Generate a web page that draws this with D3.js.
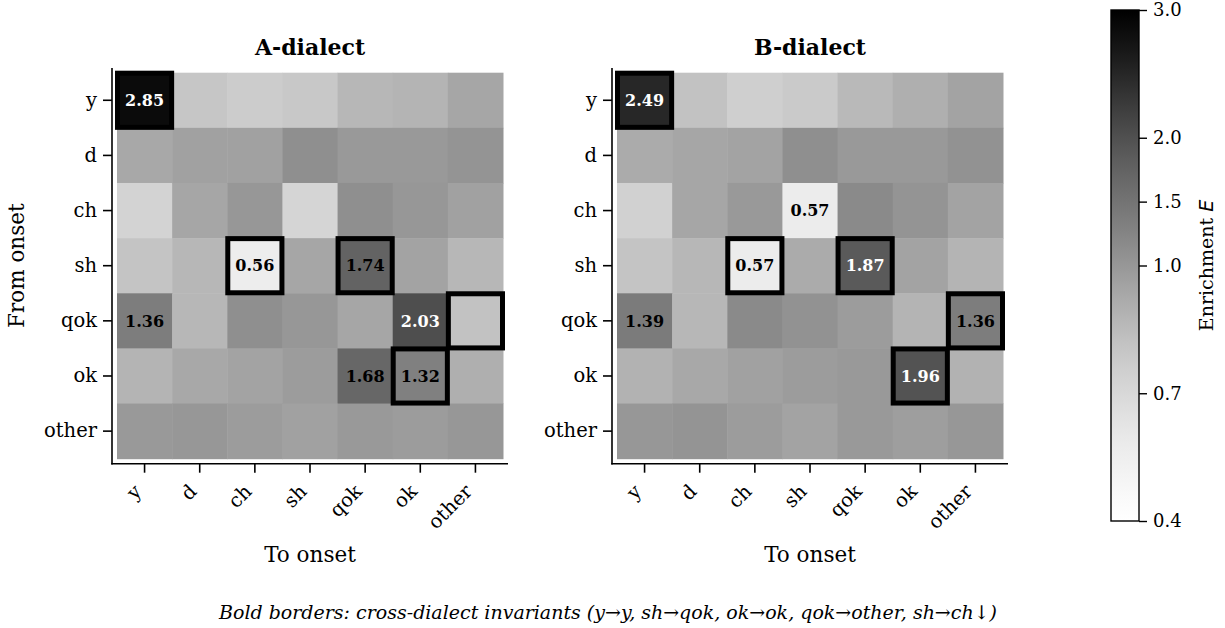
<!DOCTYPE html>
<html lang="en">
<head>
<meta charset="utf-8">
<title>Onset transition enrichment</title>
<script src="https://d3js.org/d3.v7.min.js"></script>
<style>
  body { margin: 0; background: #fff; }
  text { font-family: "DejaVu Serif", serif; fill: #000; }
</style>
</head>
<body>
<script>
// onset categories (rows = from, cols = to)
var onsets = ["y", "d", "ch", "sh", "qok", "ok", "other"];

// enrichment E, A-dialect
var valuesA = [
  [2.85, 0.80, 0.77, 0.79, 0.87, 0.88, 0.94],
  [0.93, 0.96, 0.96, 1.11, 0.99, 0.99, 1.04],
  [0.73, 0.94, 1.00, 0.72, 1.11, 1.00, 0.96],
  [0.81, 0.87, 0.56, 0.94, 1.74, 0.95, 0.87],
  [1.36, 0.87, 1.11, 1.00, 0.94, 2.03, 0.82],
  [0.88, 0.93, 0.95, 0.98, 1.68, 1.32, 0.90],
  [0.99, 1.00, 0.98, 0.96, 0.99, 0.98, 1.00]
];

// enrichment E, B-dialect
var valuesB = [
  [2.49, 0.82, 0.75, 0.78, 0.86, 0.90, 0.95],
  [0.92, 0.94, 0.95, 1.10, 0.99, 0.99, 1.06],
  [0.74, 0.94, 0.99, 0.57, 1.17, 1.04, 0.95],
  [0.81, 0.87, 0.57, 0.92, 1.87, 0.95, 0.88],
  [1.39, 0.87, 1.17, 1.06, 0.98, 0.88, 1.36],
  [0.89, 0.93, 0.96, 0.98, 0.99, 1.96, 0.89],
  [1.00, 1.03, 0.98, 0.95, 0.99, 0.97, 1.00]
];

// cross-dialect invariants [from, to]
var invariants = [["y", "y"], ["sh", "ch"], ["sh", "qok"], ["qok", "other"], ["ok", "ok"]];

var cbarTicks = [0.4, 0.7, 1.0, 1.5, 2.0, 3.0];

var width = 1225, height = 628;

var svg = d3.select("body").append("svg")
    .attr("width", width)
    .attr("height", height);

// two-slope norm: 0.4 -> 0, 1.0 -> 0.5, 3.0 -> 1
var norm = d3.scaleLinear().domain([0.4, 1.0, 3.0]).range([0, 0.5, 1]).clamp(true);
var color = function(v) { return d3.interpolateGreys(norm(v)); };

function panel(values, title, left, showYLabel) {
  var top = 72.7, size = 386;
  var x = d3.scaleBand().domain(onsets).range([left, left + size]);
  var y = d3.scaleBand().domain(onsets).range([top, top + size]);
  var g = svg.append("g");

  var cells = [];
  values.forEach(function(row, i) {
    row.forEach(function(v, j) {
      cells.push({ from: onsets[i], to: onsets[j], v: v });
    });
  });

  g.selectAll("rect.cell")
    .data(cells)
    .enter().append("rect")
    .attr("class", "cell")
    .attr("x", function(d) { return x(d.to); })
    .attr("y", function(d) { return y(d.from); })
    .attr("width", x.bandwidth() + 0.5)
    .attr("height", y.bandwidth() + 0.5)
    .style("fill", function(d) { return color(d.v); });

  // annotate the strong enrichments / depletions
  g.selectAll("text.val")
    .data(cells.filter(function(d) { return d.v >= 1.3 || d.v <= 0.6; }))
    .enter().append("text")
    .attr("class", "val")
    .attr("x", function(d) { return x(d.to) + x.bandwidth() / 2; })
    .attr("y", function(d) { return y(d.from) + y.bandwidth() / 2; })
    .attr("dy", "0.36em")
    .attr("text-anchor", "middle")
    .style("font-size", "16px")
    .style("font-weight", "bold")
    .style("fill", function(d) { return d.v > 1.8 ? "#fff" : "#000"; })
    .text(function(d) { return d.v.toFixed(2); });

  // invariant borders
  g.selectAll("rect.inv")
    .data(invariants)
    .enter().append("rect")
    .attr("class", "inv")
    .attr("x", function(d) { return x(d[1]) + 0.5; })
    .attr("y", function(d) { return y(d[0]) + 0.5; })
    .attr("width", x.bandwidth() - 1)
    .attr("height", y.bandwidth() - 1)
    .style("fill", "none")
    .style("stroke", "#000")
    .style("stroke-width", 5);

  // axes, spines offset from the image
  var spineX = left - 5, spineY = top + size + 5;
  var yAxis = d3.axisLeft(y).tickSize(9).tickPadding(6);
  var ya = g.append("g").attr("transform", "translate(" + spineX + ",0)").call(yAxis);
  ya.select(".domain").remove();
  ya.selectAll("text").style("font-size", "19.5px").style("font-family", "DejaVu Serif");
  ya.selectAll("line").style("stroke-width", 1.6);

  var xAxis = d3.axisBottom(x).tickSize(9).tickFormat("");
  var xa = g.append("g").attr("transform", "translate(0," + spineY + ")").call(xAxis);
  xa.select(".domain").remove();
  xa.selectAll("line").style("stroke-width", 1.6);

  g.selectAll("text.xlab")
    .data(onsets)
    .enter().append("text")
    .attr("class", "xlab")
    .attr("text-anchor", "end")
    .attr("transform", function(d) {
      return "translate(" + (x(d) + x.bandwidth() / 2 - 2) + "," + (spineY + 29) + ") rotate(-45)";
    })
    .style("font-size", "19.5px")
    .text(function(d) { return d; });

  g.append("line")
    .attr("x1", spineX).attr("x2", spineX)
    .attr("y1", top - 4.7).attr("y2", spineY + 0.8)
    .style("stroke", "#000").style("stroke-width", 1.6);
  g.append("line")
    .attr("x1", spineX - 0.8).attr("x2", left + size + 5)
    .attr("y1", spineY).attr("y2", spineY)
    .style("stroke", "#000").style("stroke-width", 1.6);

  g.append("text")
    .attr("x", left + size / 2)
    .attr("y", 55)
    .attr("text-anchor", "middle")
    .style("font-size", "22px")
    .style("font-weight", "bold")
    .text(title);

  g.append("text")
    .attr("x", left + size / 2)
    .attr("y", 562)
    .attr("text-anchor", "middle")
    .style("font-size", "21.5px")
    .text("To onset");

  if (showYLabel) {
    g.append("text")
      .attr("transform", "translate(" + (left - 93) + "," + (top + size / 2) + ") rotate(-90)")
      .attr("text-anchor", "middle")
      .style("font-size", "21.5px")
      .text("From onset");
  }
}

panel(valuesA, "A-dialect", 117, true);
panel(valuesB, "B-dialect", 617, false);

// colorbar
var cbX = 1111, cbW = 28, cbTop = 10, cbBot = 521;
var cbScale = d3.scaleLinear().domain([0.4, 1.0, 3.0]).range([cbBot, (cbTop + cbBot) / 2, cbTop]);

var grad = svg.append("defs").append("linearGradient")
    .attr("id", "cbgrad")
    .attr("x1", "0").attr("y1", "1").attr("x2", "0").attr("y2", "0");
d3.range(0, 1.0001, 0.05).forEach(function(t) {
  grad.append("stop")
    .attr("offset", (t * 100) + "%")
    .attr("stop-color", d3.interpolateGreys(t));
});

svg.append("rect")
  .attr("x", cbX).attr("y", cbTop)
  .attr("width", cbW).attr("height", cbBot - cbTop)
  .style("fill", "url(#cbgrad)")
  .style("stroke", "#000")
  .style("stroke-width", 1.4);

var cbAxis = d3.axisRight(cbScale).tickValues(cbarTicks).tickFormat(d3.format(".1f")).tickSize(8).tickPadding(6);
var ca = svg.append("g").attr("transform", "translate(" + (cbX + cbW) + ",0)").call(cbAxis);
ca.select(".domain").remove();
ca.selectAll("text").style("font-size", "18px").style("font-family", "DejaVu Serif");
ca.selectAll("line").style("stroke-width", 1.4);

var cbLabel = svg.append("text")
  .attr("transform", "translate(1213," + ((cbTop + cbBot) / 2) + ") rotate(-90)")
  .attr("text-anchor", "middle")
  .style("font-size", "19px");
cbLabel.append("tspan").text("Enrichment ");
cbLabel.append("tspan").style("font-family", "DejaVu Sans").style("font-style", "italic").text("E");

svg.append("text")
  .attr("x", 608)
  .attr("y", 619)
  .attr("text-anchor", "middle")
  .style("font-size", "19px")
  .style("font-style", "italic")
  .text("Bold borders: cross-dialect invariants (y\u2192y, sh\u2192qok, ok\u2192ok, qok\u2192other, sh\u2192ch\u2193)");
</script>
</body>
</html>
